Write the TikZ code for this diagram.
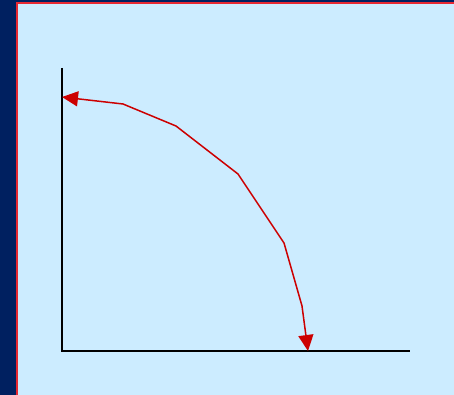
\documentclass[tikz,border=0pt]{standalone}
\usetikzlibrary{arrows.meta}
\definecolor{navy}{RGB}{0,32,96}
\definecolor{paleblue}{RGB}{204,236,255}
\definecolor{curvered}{RGB}{204,0,0}
\definecolor{edgered}{RGB}{230,40,50}
\tikzset{
  axis/.style={black, line width=1.5pt},
  curve/.style={curvered, line width=1.5pt, {Triangle[length=16pt,width=15pt]}-{Triangle[length=16pt,width=15pt]}}
}
\begin{document}
\begin{tikzpicture}[x=1pt,y=-1pt]
	  \useasboundingbox (0,0) rectangle (454,395);
	  \fill[navy] (0,0) rectangle (454,395);
	  \fill[paleblue] (17,3.5) rectangle (454,395);
	  \draw[edgered, line width=2pt] (17,395) -- (17,3.5) -- (454,3.5);
	  
	  \coordinate (origin) at (62,351);
	  \coordinate (ytop) at (62,68);
	  \coordinate (xend) at (410,351);
	  \draw[axis] (ytop) -- (origin) -- (xend);
	  
	  \coordinate (p0) at (62,97);
	  \coordinate (p1) at (123,104);
	  \coordinate (p2) at (176,126);
	  \coordinate (p3) at (238,174);
	  \coordinate (p4) at (284,243);
	  \coordinate (p5) at (302,306);
	  \coordinate (p6) at (308,351);
	  \draw[curve] (p0) -- (p1) -- (p2) -- (p3) -- (p4) -- (p5) -- (p6);
	\end{tikzpicture}
\end{document}
